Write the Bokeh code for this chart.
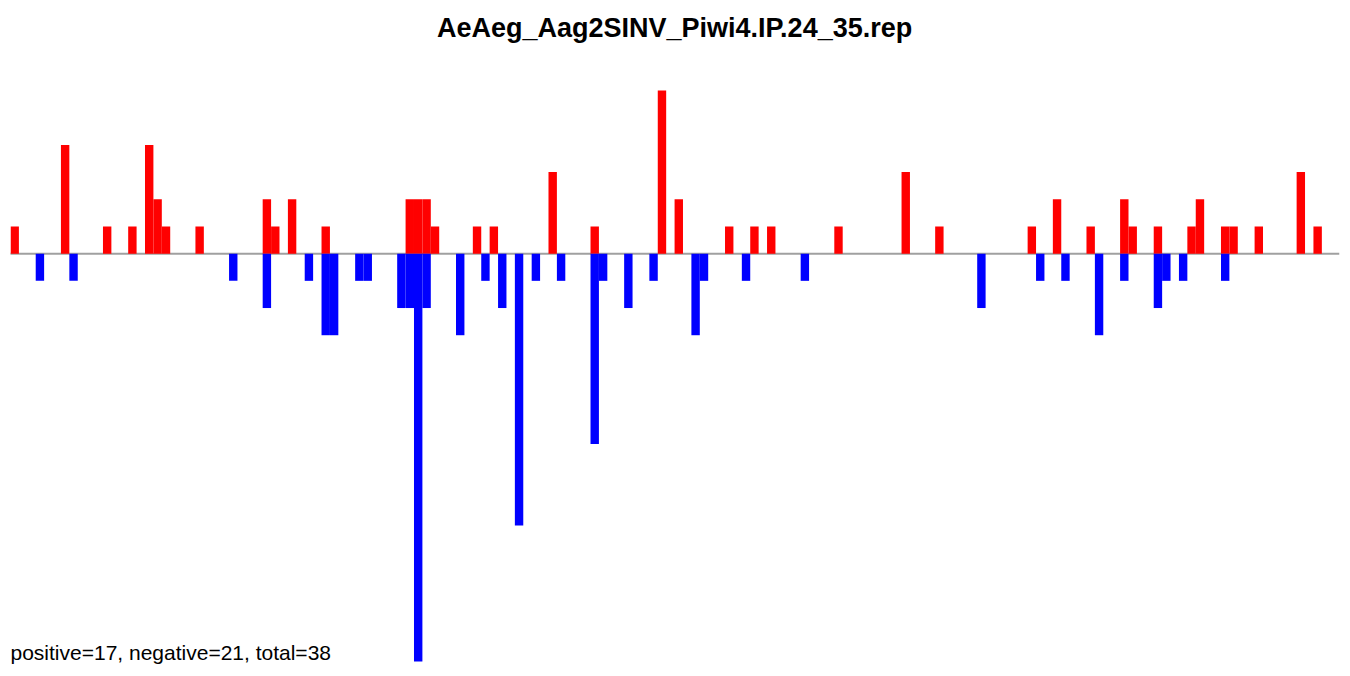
from bokeh.plotting import figure
from bokeh.models import Range1d, Label, ColumnDataSource
from bokeh.embed import file_html
from bokeh.resources import INLINE

title_text = "AeAeg_Aag2SINV_Piwi4.IP.24_35.rep"
summary_text = "positive=17, negative=21, total=38"
n_bins = 158

pos_idx = [0, 6, 11, 14, 16, 17, 18, 22, 30, 31, 33, 37, 47, 48, 49, 50, 55, 57, 64, 69,
           77, 79, 85, 88, 90, 98, 106, 110, 121, 124, 128, 132, 133, 136, 140, 141, 144,
           145, 148, 153, 155]
pos_val = [1, 4, 1, 1, 4, 2, 1, 1, 2, 1, 2, 1, 2, 2, 2, 1, 1, 1, 3, 1,
           6, 2, 1, 1, 1, 1, 3, 1, 1, 2, 1, 2, 1, 1, 1, 2, 1,
           1, 1, 3, 1]
neg_idx = [3, 7, 26, 30, 35, 37, 38, 41, 42, 46, 47, 48, 49, 53, 56, 58, 60, 62, 65, 69,
           70, 73, 76, 81, 82, 87, 94, 115, 122, 125, 129, 132, 136, 137, 139, 144]
neg_val = [1, 1, 1, 2, 1, 3, 3, 1, 1, 2, 2, 15, 2, 3, 1, 2, 10, 1, 1, 7,
           1, 2, 1, 3, 1, 1, 1, 2, 1, 1, 3, 1, 2, 1, 1, 1]

pos_src = ColumnDataSource(dict(x=[i + 0.5 for i in pos_idx], top=pos_val))
neg_src = ColumnDataSource(dict(x=[i + 0.5 for i in neg_idx], top=[-v for v in neg_val]))

x_max = 158.1
y_min, y_max = -15.22, 9.31

p = figure(width=1342, height=670, output_backend="svg", toolbar_location=None,
           x_range=Range1d(0, x_max), y_range=Range1d(y_min, y_max),
           x_axis_location=None, y_axis_location=None,
           min_border_left=10, min_border_right=3, min_border_top=0, min_border_bottom=3)
p.grid.visible = False
p.outline_line_color = None

p.segment(x0=[-0.1], y0=[0], x1=[x_max], y1=[0], line_color="#A0A0A0", line_width=2)
p.vbar(x="x", top="top", bottom=0, width=1.0, source=pos_src, fill_color="#FF0000", line_color=None)
p.vbar(x="x", top="top", bottom=0, width=1.0, source=neg_src, fill_color="#0000FF", line_color=None)

p.add_layout(Label(x=79.0, y=8.29, text=title_text, text_font="Liberation Sans",
                   text_font_size="27px", text_font_style="bold", text_color="black",
                   text_align="center", text_baseline="alphabetic"))
p.add_layout(Label(x=0, y=-14.65, text=summary_text, text_font="Liberation Sans",
                   text_font_size="21px", text_color="black", text_baseline="alphabetic"))

open("out.html", "w").write(file_html(p, INLINE))
